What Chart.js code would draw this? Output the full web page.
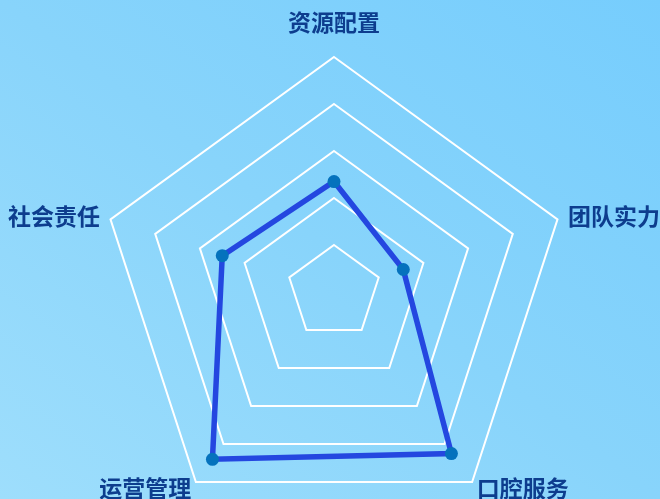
<!DOCTYPE html>
<html>
<head>
<meta charset="utf-8">
<script src="https://cdn.jsdelivr.net/npm/chart.js@4/dist/chart.umd.min.js"></script>
<style>
  html, body { margin: 0; padding: 0; width: 660px; height: 499px; overflow: hidden; }
  body { background: linear-gradient(to top right, #9edefc 0%, #88d4fb 50%, #76cdfd 100%); }
  #wrap { position: absolute; left: 0; top: 0; width: 660px; height: 530px; }
</style>
</head>
<body>
<div id="wrap"><canvas id="radar"></canvas></div>
<script>
'use strict';

// 指标名称 & 得分
var categories = ['资源配置', '团队实力', '口腔服务', '运营管理', '社会责任'];
var scores     = [47, 31, 85, 88, 50];
var scaleMax   = 100;
var scaleStep  = 20;

// 标签离外圈的距离
var labelGaps = [35, 11, 8, 8, 11];

var labelPlugin = {
  id: 'radarNames',
  afterDraw: function(chart) {
    var s = chart.scales.r, ctx = chart.ctx;
    ctx.save();
    ctx.font = 'bold 23px "Noto Sans CJK SC", sans-serif';
    ctx.fillStyle = '#0d3d8e';
    ctx.textBaseline = 'middle';
    categories.forEach(function(name, i) {
      var p = s.getPointPosition(i, s.drawingArea + labelGaps[i]);
      var dx = p.x - s.xCenter;
      ctx.textAlign = Math.abs(dx) < 1 ? 'center' : (dx > 0 ? 'left' : 'right');
      ctx.fillText(name, p.x, p.y);
    });
    ctx.restore();
  }
};

new Chart(document.getElementById('radar').getContext('2d'), {
  type: 'radar',
  data: {
    labels: categories,
    datasets: [{
      data: scores,
      borderColor: '#2447e0',
      borderWidth: 5.5,
      fill: false,
      pointRadius: 6.5,
      pointHoverRadius: 6.5,
      pointBackgroundColor: '#0572bd',
      pointBorderColor: '#0572bd',
      pointBorderWidth: 0
    }]
  },
  options: {
    responsive: true,
    maintainAspectRatio: false,
    animation: false,
    layout: { padding: { left: 99, right: 91, top: 57, bottom: 3 } },
    plugins: { legend: { display: false }, tooltip: { enabled: false } },
    scales: {
      r: {
        min: 0,
        max: scaleMax,
        ticks: { stepSize: scaleStep, display: false },
        grid: { color: '#ffffff', lineWidth: 2 },
        angleLines: { display: false },
        pointLabels: { display: false }
      }
    }
  },
  plugins: [labelPlugin]
});
</script>
</body>
</html>
